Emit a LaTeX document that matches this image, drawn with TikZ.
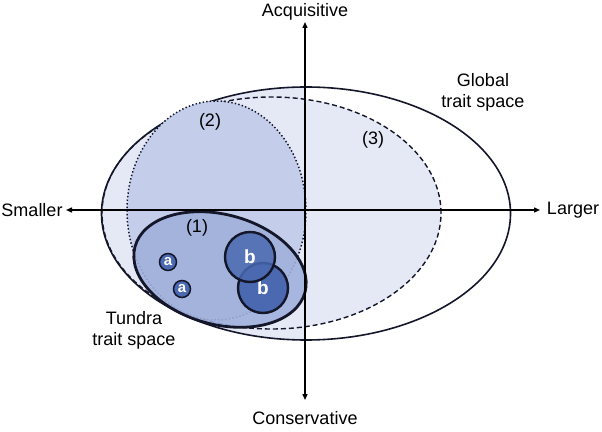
\documentclass[tikz,border=0pt]{standalone}
\usepackage{fontspec}
\setmainfont{Liberation Sans}
\usetikzlibrary{arrows.meta}
\definecolor{lightfill}{HTML}{E5E8F5}
\definecolor{twofill}{HTML}{C4CDE9}
\definecolor{onefill}{HTML}{9FB0DB}
\definecolor{circfill}{HTML}{4A69B0}
\definecolor{edge}{HTML}{14162A}
\tikzset{
  lbl/.style={font=\fontsize{18}{21}\selectfont, text=black, inner sep=0pt},
  axis/.style={line width=1.4pt, -{Triangle[length=6pt,width=5pt]}},
  acirc/.style={circle, draw=edge, line width=1.5pt, fill=circfill, text=white,
    minimum size=17pt, inner sep=0pt, font=\fontsize{15}{15}\selectfont\bfseries},
  bcirc/.style={circle, draw=edge, line width=2.4pt, fill=circfill, text=white,
    minimum size=50pt, inner sep=0pt, font=\fontsize{19}{19}\selectfont\bfseries},
}
\begin{document}
\begin{tikzpicture}[x=1pt,y=1pt]
\useasboundingbox (0,0) rectangle (602,431);
% light fill: left half of global space
\begin{scope}
  \clip (0,0) rectangle (305,431);
  \fill[lightfill] (306,217.5) ellipse [x radius=204.5, y radius=126.5];
\end{scope}
% (3) dashed
\fill[lightfill] (271.5,218) ellipse [x radius=169.5, y radius=116];
\draw[line width=1.4pt, dash pattern=on 5pt off 3pt, edge] (271.5,218) ellipse [x radius=169.5, y radius=116];
% global outline
\draw[line width=1.6pt, edge] (306,217.5) ellipse [x radius=204.5, y radius=126.5];
% (2) dotted
\fill[twofill] (216.5,220.5) ellipse [x radius=89.5, y radius=109.5];
\draw[line width=1.5pt, dash pattern=on 1.4pt off 2.2pt, edge] (216.5,220.5) ellipse [x radius=89.5, y radius=109.5];
% (1) tundra
\draw[line width=2.8pt, edge, fill=onefill, fill opacity=0.88, rotate around={-15:(220,161.5)}] (220,161.5) ellipse [x radius=88, y radius=55];
% axes
\coordinate (xl) at (66,221);
\coordinate (xr) at (540,221);
\coordinate (yt) at (305,409);
\coordinate (yb) at (305,31);
\draw[axis] (305,221) -- (xl);
\draw[axis] (305,221) -- (xr);
\draw[axis] (305,221) -- (yt);
\draw[axis] (305,221) -- (yb);
% circles
\node[acirc] (a1) at (168,169) {a};
\node[acirc] (a2) at (182,142) {a};
\node[bcirc] (b2) at (263,143) {b};
\node[bcirc, fill opacity=0.85, text opacity=1, draw opacity=1] (b1) at (250,174) {b};
% labels
\node[lbl] (smaller) at (32,221) {Smaller};
\node[lbl] (larger) at (573,221) {Larger};
\node[lbl] (acq) at (305,419) {Acquisitive};
\node[lbl] (cons) at (305,13) {Conservative};
\node[lbl] (l1) at (197,203) {(1)};
\node[lbl] (l2) at (210,309) {(2)};
\node[lbl] (l3) at (373,291) {(3)};
\node[lbl, align=center] (glob) at (483,339) {Global\\trait space};
\node[lbl, align=center] (tund) at (134,101) {Tundra\\trait space};
\end{tikzpicture}
\end{document}
